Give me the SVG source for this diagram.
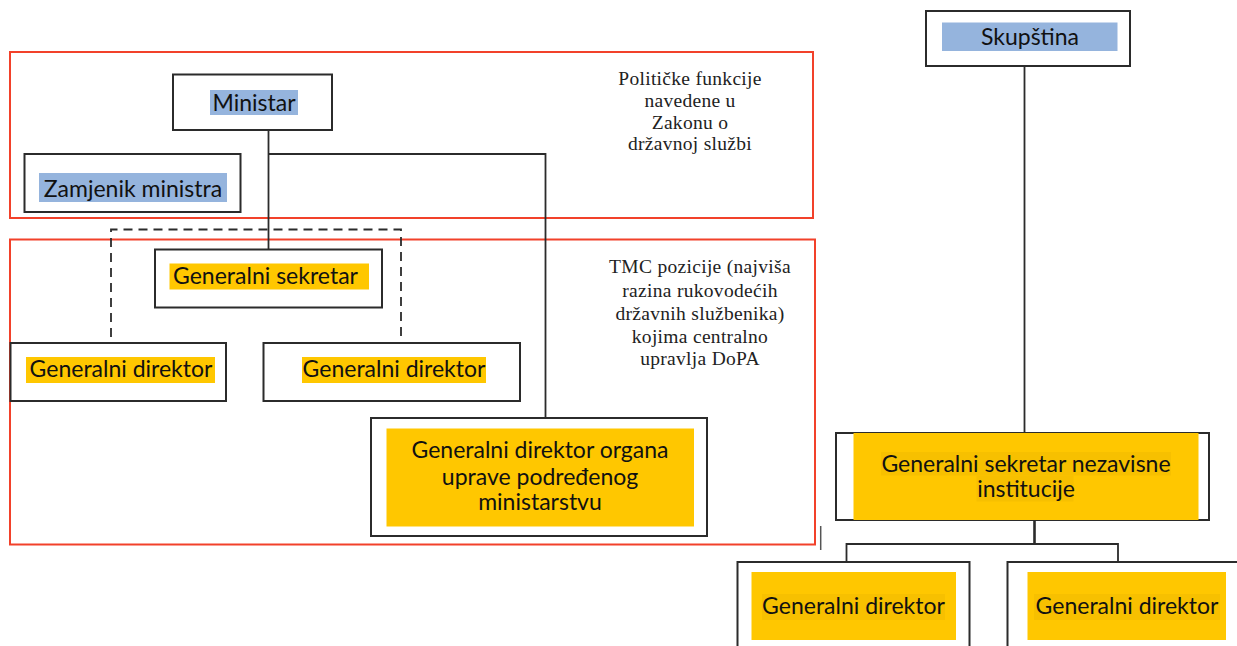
<svg xmlns="http://www.w3.org/2000/svg" width="1237" height="646" viewBox="0 0 1237 646">
  <style>
    .frame { fill: none; stroke: #f2412a; stroke-width: 2; }
    .box { fill: #ffffff; stroke: #2b2b2b; stroke-width: 2; }
    .blue { fill: #95b4dd; }
    .gold { fill: #ffc700; }
    .gold-hl { fill: #f7c000; }
    .lbl { font-family: Lato, "Liberation Sans", sans-serif; font-size: 23px; fill: #111111; text-anchor: middle; }
    .note { font-family: "Liberation Serif", "Times New Roman", serif; font-size: 19.5px; fill: #222222; text-anchor: middle; letter-spacing: 0.3px; }
    .link { fill: none; stroke: #2b2b2b; stroke-width: 1.8; }
    .dash { fill: none; stroke: #2b2b2b; stroke-width: 1.8; stroke-dasharray: 9 6; }
  </style>

  <rect width="1237" height="646" fill="#ffffff"/>

  <!-- Red grouping frames -->
  <g id="frame-political">
    <rect class="frame" x="10" y="52" width="803" height="166"/>
    <text class="note" x="690" y="85">Političke funkcije</text>
    <text class="note" x="690" y="107">navedene u</text>
    <text class="note" x="690" y="128.5">Zakonu o</text>
    <text class="note" x="690" y="150">državnoj službi</text>
  </g>
  <g id="frame-tmc">
    <rect class="frame" x="10" y="239.5" width="805" height="305"/>
    <text class="note" x="700" y="273">TMC pozicije (najviša</text>
    <text class="note" x="700" y="296.5">razina rukovodećih</text>
    <text class="note" x="700" y="320">državnih službenika)</text>
    <text class="note" x="700" y="342.5">kojima centralno</text>
    <text class="note" x="700" y="365">upravlja DoPA</text>
  </g>

  <!-- Connectors -->
  <g id="connectors">
    <path class="link" d="M268.5 130 V249.5"/>
    <path class="link" d="M268.5 154 H545.5 V418"/>
    <path class="dash" d="M111 337 V229.5 H401 V337"/>
    <path class="link" d="M1024.5 66 V433"/>
    <path class="link" d="M1034.5 520 V544" style="stroke-width:2.6"/>
    <path class="link" d="M846.5 562 V544 H1118 V562"/>
    <path class="link" d="M820.7 526 V550" style="stroke:#555555;stroke-width:1.5"/>
  </g>

  <!-- Ministry nodes -->
  <g id="ministar">
    <rect class="box" x="173" y="74.5" width="159" height="55.5"/>
    <rect class="blue" x="210" y="90" width="88" height="25"/>
    <text class="lbl" x="254" y="110.5">Ministar</text>
  </g>
  <g id="zamjenik-ministra">
    <rect class="box" x="24.5" y="154" width="216" height="58"/>
    <rect class="blue" x="39" y="173" width="188" height="29"/>
    <text class="lbl" x="133" y="196.5">Zamjenik ministra</text>
  </g>
  <g id="generalni-sekretar">
    <rect class="box" x="155" y="249.5" width="227" height="58"/>
    <rect class="gold" x="169.5" y="263.5" width="199.5" height="26"/>
    <text class="lbl" x="265.5" y="284">Generalni sekretar</text>
  </g>
  <g id="generalni-direktor-1">
    <rect class="box" x="10.5" y="343" width="215.5" height="58"/>
    <rect class="gold" x="26" y="357" width="189" height="26"/>
    <text class="lbl" x="121" y="377">Generalni direktor</text>
  </g>
  <g id="generalni-direktor-2">
    <rect class="box" x="263.5" y="343" width="256.5" height="58"/>
    <rect class="gold" x="302" y="357" width="184" height="26"/>
    <text class="lbl" x="394" y="376.5">Generalni direktor</text>
  </g>
  <g id="generalni-direktor-organa">
    <rect class="box" x="371" y="418" width="336" height="118"/>
    <rect class="gold" x="386.5" y="428.5" width="307.5" height="98"/>
    <text class="lbl" x="540" y="458">Generalni direktor organa</text>
    <text class="lbl" x="540" y="485">uprave podređenog</text>
    <text class="lbl" x="540" y="510">ministarstvu</text>
  </g>

  <!-- Independent institution nodes -->
  <g id="skupstina">
    <rect class="box" x="926" y="11" width="204" height="55"/>
    <rect class="blue" x="942" y="22.5" width="175.5" height="28.5"/>
    <text class="lbl" x="1030" y="45">Skupština</text>
  </g>
  <g id="generalni-sekretar-nezavisne">
    <rect class="box" x="836" y="433" width="373" height="87"/>
    <rect class="gold" x="853.5" y="433" width="345" height="87"/>
    <rect class="gold-hl" x="881" y="452" width="290" height="23.5"/>
    <rect class="gold-hl" x="976.5" y="475.5" width="97" height="26"/>
    <text class="lbl" x="1026" y="472">Generalni sekretar nezavisne</text>
    <text class="lbl" x="1026" y="497">institucije</text>
  </g>
  <g id="generalni-direktor-3">
    <rect class="box" x="737.5" y="562" width="232" height="100"/>
    <rect class="gold" x="751.5" y="572" width="204.5" height="68"/>
    <rect class="gold-hl" x="762" y="594" width="183" height="26"/>
    <text class="lbl" x="853.5" y="614">Generalni direktor</text>
  </g>
  <g id="generalni-direktor-4">
    <rect class="box" x="1007.5" y="562" width="240" height="100"/>
    <rect class="gold" x="1027.5" y="572" width="198.5" height="68"/>
    <rect class="gold-hl" x="1034" y="594" width="186" height="26"/>
    <text class="lbl" x="1127" y="614">Generalni direktor</text>
  </g>
</svg>
